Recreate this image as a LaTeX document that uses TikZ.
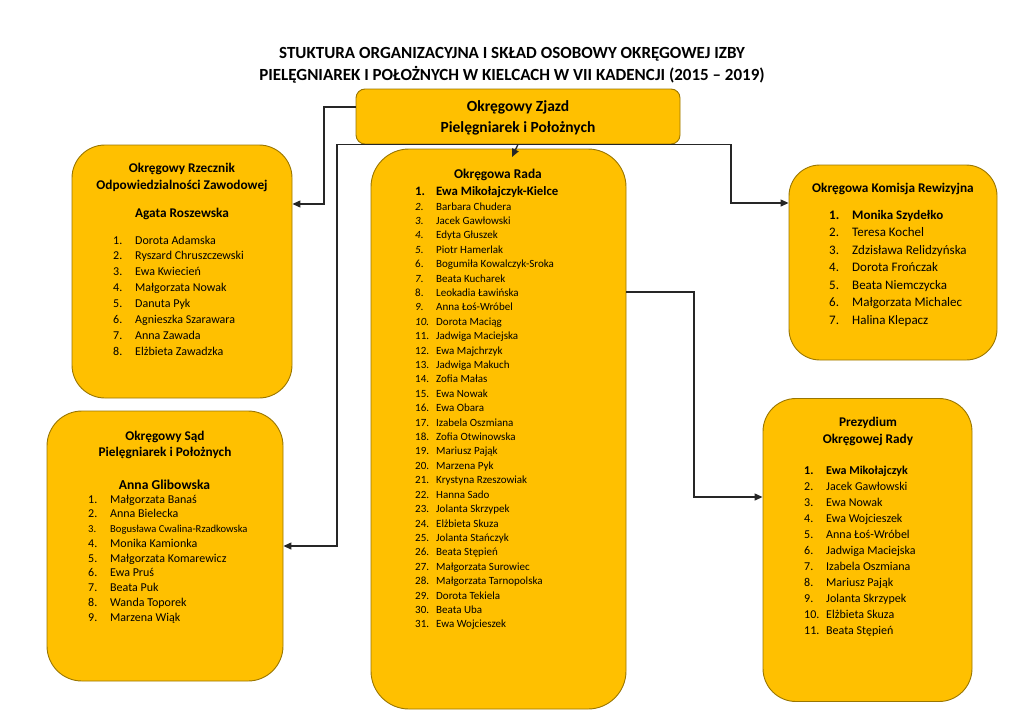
\documentclass[tikz,border=0pt]{standalone}
\usepackage{fontspec}
\setmainfont{Carlito}
\usetikzlibrary{arrows.meta}
\definecolor{gold}{HTML}{FFC000}
\definecolor{boxline}{HTML}{9A7600}
\newlength{\numw}
\newcommand{\lrow}[2]{\makebox[\numw][l]{#1}#2\\}
\tikzset{
  box/.style={draw=boxline, fill=gold, line width=0.9pt, inner sep=0pt},
  conn/.style={draw=black!85, line width=1.3pt},
  arr/.style={conn, -{Triangle[length=8pt,width=7pt]}},
  hdr/.style={anchor=base, inner sep=0pt, font=\bfseries\fontsize{13.3}{16}\selectfont},
  lst/.style={anchor=base west, inner sep=0pt},
}
\begin{document}
\begin{tikzpicture}[x=1pt,y=-1pt]
\useasboundingbox (0,0) rectangle (1024,725);
% title
\node[anchor=base, inner sep=0pt, font=\bfseries\fontsize{17}{22}\selectfont] (t1) at (512,59) {STUKTURA ORGANIZACYJNA I SKŁAD OSOBOWY OKRĘGOWEJ IZBY};
\node[anchor=base, inner sep=0pt, font=\bfseries\fontsize{17}{22}\selectfont] (t2) at (512,81) {PIELĘGNIAREK I POŁOŻNYCH W KIELCACH W VII KADENCJI (2015 – 2019)};
% boxes
\node[box, minimum width=324pt, minimum height=55pt, rounded corners=9pt] (zj) at (518,116.5) {};
\node[box, minimum width=220pt, minimum height=253pt, rounded corners=33pt] (rz) at (182,271.5) {};
\node[box, minimum width=236pt, minimum height=270pt, rounded corners=35pt] (sd) at (165,546) {};
\node[box, minimum width=255pt, minimum height=560pt, rounded corners=38pt] (rd) at (498.5,429) {};
\node[box, minimum width=208pt, minimum height=195pt, rounded corners=31pt] (kr) at (893,262.5) {};
\node[box, minimum width=209pt, minimum height=303pt, rounded corners=33pt] (pz) at (867.5,550) {};
% connectors
\coordinate (k0) at (324,107);
\coordinate (k1) at (324,204);
\coordinate (k2) at (337,546);
\coordinate (k3) at (731,203);
\coordinate (k4) at (694,292);
\coordinate (k5) at (694,497);
\coordinate (k6) at (512,157);
\draw[arr] (k0 -| zj.west) -- (k0) -- (k1) -- (k1 -| rz.east);
\draw[arr] (zj.south) -| (k2) -- (k2 -| sd.east);
\draw[arr] (zj.south) -| (k3) -- (k3 -| kr.west);
\draw[arr] (zj.south) -- (k6);
\draw[arr] (k4 -| rd.east) -- (k4) -- (k5) -- (k5 -| pz.west);
% top box text
\node[anchor=base, inner sep=0pt, font=\bfseries\fontsize{15.5}{20}\selectfont] (zj1) at (518,111) {Okręgowy Zjazd};
\node[anchor=base, inner sep=0pt, font=\bfseries\fontsize{15.5}{20}\selectfont] (zj2) at (518,132) {Pielęgniarek i Położnych};
% Rzecznik
\node[hdr] (rzh1) at (182,172) {Okręgowy Rzecznik};
\node[hdr] (rzh2) at (182,189) {Odpowiedzialności Zawodowej};
\node[hdr] (rzh3) at (182,217) {Agata Roszewska};
\node[lst, font=\fontsize{12}{15.86}\selectfont] (rzl) at (113,244) {\setlength{\numw}{22pt}\begin{tabular}[t]{@{}l@{}}
\lrow{1.}{Dorota Adamska}
\lrow{2.}{Ryszard Chruszczewski}
\lrow{3.}{Ewa Kwiecień}
\lrow{4.}{Małgorzata Nowak}
\lrow{5.}{Danuta Pyk}
\lrow{6.}{Agnieszka Szarawara}
\lrow{7.}{Anna Zawada}
\lrow{8.}{Elżbieta Zawadzka}
\end{tabular}};
% Sad
\node[hdr] (sdh1) at (165,440) {Okręgowy Sąd};
\node[hdr] (sdh2) at (165,456) {Pielęgniarek i Położnych};
\node[hdr, font=\bfseries\fontsize{13.6}{16}\selectfont] (sdh3) at (164.5,489) {Anna Glibowska};
\node[lst, font=\fontsize{12}{14.75}\selectfont] (sdl) at (88,503) {\setlength{\numw}{22pt}\begin{tabular}[t]{@{}l@{}}
\lrow{1.}{Małgorzata Banaś}
\lrow{2.}{Anna Bielecka}
\lrow{\fontsize{10.6}{14.75}\selectfont 3.}{\fontsize{10.6}{14.75}\selectfont Bogusława Cwalina-Rzadkowska}
\lrow{4.}{Monika Kamionka}
\lrow{5.}{Małgorzata Komarewicz}
\lrow{6.}{Ewa Pruś}
\lrow{7.}{Beata Puk}
\lrow{8.}{Wanda Toporek}
\lrow{9.}{Marzena Wiąk}
\end{tabular}};
% Rada
\node[hdr, font=\bfseries\fontsize{13.4}{16}\selectfont] (rdh) at (498,178) {Okręgowa Rada};
\node[lst, font=\bfseries\fontsize{12.8}{15}\selectfont] (rd1) at (415,195) {\makebox[21pt][l]{1.}Ewa Mikołajczyk-Kielce};
\node[lst, font=\fontsize{11}{14.41}\selectfont] (rdl) at (415,210) {\setlength{\numw}{21pt}\begin{tabular}[t]{@{}l@{}}
\lrow{\textit{2.}}{Barbara Chudera}
\lrow{\textit{3.}}{Jacek Gawłowski}
\lrow{\textit{4.}}{Edyta Głuszek}
\lrow{\textit{5.}}{Piotr Hamerlak}
\lrow{6.}{Bogumiła Kowalczyk-Sroka}
\lrow{\textit{7.}}{Beata Kucharek}
\lrow{8.}{Leokadia Ławińska}
\lrow{\textit{9.}}{Anna Łoś-Wróbel}
\lrow{\textit{10.}}{Dorota Maciąg}
\lrow{11.}{Jadwiga Maciejska}
\lrow{12.}{Ewa Majchrzyk}
\lrow{13.}{Jadwiga Makuch}
\lrow{14.}{Zofia Małas}
\lrow{15.}{Ewa Nowak}
\lrow{16.}{Ewa Obara}
\lrow{17.}{Izabela Oszmiana}
\lrow{18.}{Zofia Otwinowska}
\lrow{19.}{Mariusz Pająk}
\lrow{20.}{Marzena Pyk}
\lrow{21.}{Krystyna Rzeszowiak}
\lrow{22.}{Hanna Sado}
\lrow{23.}{Jolanta Skrzypek}
\lrow{24.}{Elżbieta Skuza}
\lrow{25.}{Jolanta Stańczyk}
\lrow{26.}{Beata Stępień}
\lrow{27.}{Małgorzata Surowiec}
\lrow{28.}{Małgorzata Tarnopolska}
\lrow{29.}{Dorota Tekiela}
\lrow{30.}{Beata Uba}
\lrow{31.}{Ewa Wojcieszek}
\end{tabular}};
% Komisja
\node[hdr] (krh) at (893,192) {Okręgowa Komisja Rewizyjna};
\node[lst, font=\fontsize{13}{17.5}\selectfont] (krl) at (829,219) {\setlength{\numw}{23pt}\begin{tabular}[t]{@{}l@{}}
\lrow{\textbf{1.}}{\textbf{Monika Szydełko}}
\lrow{2.}{Teresa Kochel}
\lrow{3.}{Zdzisława Relidzyńska}
\lrow{4.}{Dorota Frończak}
\lrow{5.}{Beata Niemczycka}
\lrow{6.}{Małgorzata Michalec}
\lrow{7.}{Halina Klepacz}
\end{tabular}};
% Prezydium
\node[hdr] (pzh1) at (868,426) {Prezydium};
\node[hdr] (pzh2) at (868,443) {Okręgowej Rady};
\node[lst, font=\fontsize{12}{16}\selectfont] (pzl) at (804,474) {\setlength{\numw}{22pt}\begin{tabular}[t]{@{}l@{}}
\lrow{\textbf{1.}}{\textbf{Ewa Mikołajczyk}}
\lrow{2.}{Jacek Gawłowski}
\lrow{3.}{Ewa Nowak}
\lrow{4.}{Ewa Wojcieszek}
\lrow{5.}{Anna Łoś-Wróbel}
\lrow{6.}{Jadwiga Maciejska}
\lrow{7.}{Izabela Oszmiana}
\lrow{8.}{Mariusz Pająk}
\lrow{9.}{Jolanta Skrzypek}
\lrow{10.}{Elżbieta Skuza}
\lrow{11.}{Beata Stępień}
\end{tabular}};
\end{tikzpicture}
\end{document}
